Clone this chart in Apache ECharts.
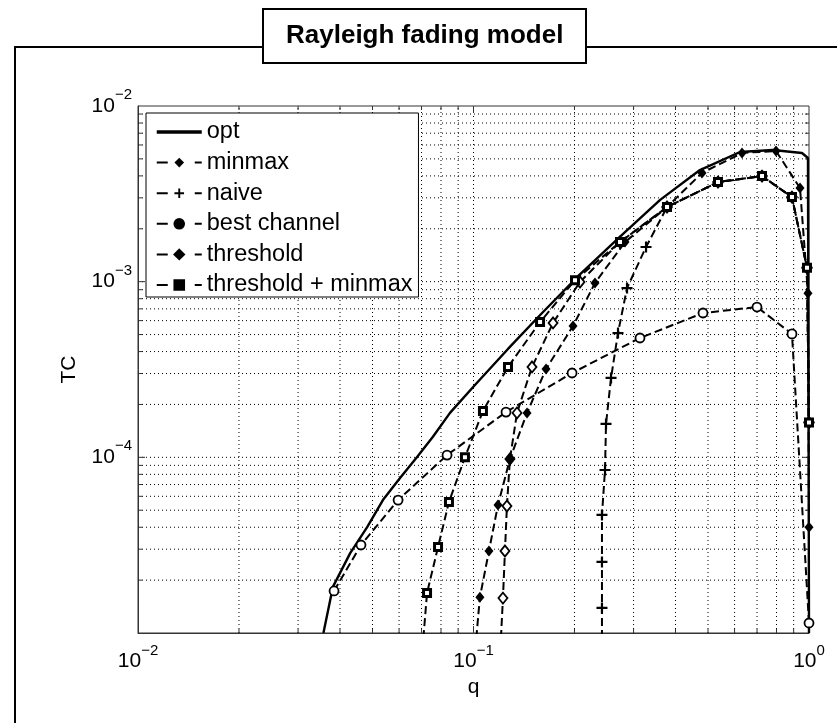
<!DOCTYPE html>
<html>
<head>
    <meta charset="utf-8">
    <title>Rayleigh fading model</title>
    <script src="https://cdn.jsdelivr.net/npm/echarts@6/dist/echarts.min.js"></script>
    <style>
        html, body { margin: 0; padding: 0; background: #fff; }
        #main { width: 837px; height: 723px; }
    </style>
</head>
<body>
<div id="main"></div>
<script>
    // axis ranges (log axes)
    var qRange = [0.01, 1];
    var tcRange = [1e-5, 1e-2];

    // dotted grid (matlab "grid on" with minor grid)
    var qGrid = [0.02, 0.03, 0.04, 0.05, 0.06, 0.07, 0.08, 0.09, 0.1,
                 0.2, 0.3, 0.4, 0.5, 0.6, 0.7, 0.8, 0.9];
    var tcGrid = [2e-5, 3e-5, 4e-5, 5e-5, 6e-5, 7e-5, 8e-5, 9e-5, 1e-4,
                  2e-4, 3e-4, 4e-4, 5e-4, 6e-4, 7e-4, 8e-4, 9e-4, 1e-3,
                  2e-3, 3e-3, 4e-3, 5e-3, 6e-3, 7e-3, 8e-3, 9e-3];
    var qMajor = [0.1];
    var tcMajor = [1e-4, 1e-3];

    // [q, TC]
    var optData = [
        [0.0357, 1.0e-5], [0.0381, 1.83e-5], [0.0429, 2.85e-5], [0.0482, 4.01e-5],
        [0.0537, 5.71e-5], [0.0604, 7.63e-5], [0.0678, 1.0e-4], [0.0757, 1.31e-4],
        [0.0851, 1.79e-4], [0.101, 2.58e-4], [0.1267, 4.14e-4], [0.158, 6.46e-4],
        [0.2035, 1.06e-3], [0.273, 1.80e-3], [0.360, 2.92e-3], [0.473, 4.32e-3],
        [0.623, 5.47e-3], [0.781, 5.62e-3], [0.953, 5.40e-3], [0.993, 5.06e-3],
        [1.0, 1.0e-5]
    ];
    var minmaxData = [
        [0.099, 5e-6], [0.1045, 1.60e-5], [0.1112, 2.93e-5], [0.1183, 5.36e-5],
        [0.1284, 9.78e-5], [0.1444, 1.79e-4], [0.1645, 3.18e-4], [0.198, 5.59e-4],
        [0.2302, 9.83e-4], [0.2829, 1.68e-3], [0.3774, 2.66e-3], [0.4798, 4.16e-3],
        [0.6315, 5.40e-3], [0.7973, 5.55e-3], [0.9402, 3.41e-3], [0.993, 8.6e-4],
        [1.0, 4.0e-5]
    ];
    var naiveData = [
        [0.2415, 5e-6], [0.2415, 1.39e-5], [0.2415, 2.54e-5], [0.2415, 4.70e-5],
        [0.2466, 8.47e-5], [0.2483, 1.55e-4], [0.257, 2.83e-4], [0.2696, 5.10e-4],
        [0.2868, 9.20e-4], [0.3268, 1.575e-3], [0.3774, 2.66e-3], [0.5355, 3.69e-3],
        [0.7244, 3.99e-3], [0.8897, 3.03e-3], [0.9863, 1.2e-3], [1.0, 1.58e-4]
    ];
    var bestData = [
        [0.0384, 1.735e-5], [0.0462, 3.17e-5], [0.0596, 5.71e-5], [0.0834, 1.03e-4],
        [0.125, 1.81e-4], [0.1967, 3.02e-4], [0.3135, 4.78e-4], [0.4831, 6.63e-4],
        [0.6998, 7.17e-4], [0.8897, 5.04e-4], [1.0, 1.14e-5]
    ];
    var thresholdData = [
        [0.1187, 5e-6], [0.1224, 1.58e-5], [0.1241, 2.93e-5], [0.1258, 5.28e-5],
        [0.1284, 9.78e-5], [0.1348, 1.79e-4], [0.1494, 3.27e-4], [0.1726, 5.82e-4],
        [0.2077, 9.96e-4], [0.2733, 1.68e-3], [0.3774, 2.66e-3], [0.5355, 3.69e-3],
        [0.7244, 3.99e-3], [0.8897, 3.03e-3], [0.9863, 1.2e-3], [1.0, 1.58e-4]
    ];
    var thrMinmaxData = [
        [0.069, 5e-6], [0.0727, 1.69e-5], [0.0784, 3.09e-5], [0.0845, 5.57e-5],
        [0.0943, 1.0e-4], [0.1067, 1.835e-4], [0.1267, 3.27e-4], [0.1579, 5.89e-4],
        [0.2007, 1.02e-3], [0.2733, 1.68e-3], [0.3774, 2.66e-3], [0.5355, 3.69e-3],
        [0.7244, 3.99e-3], [0.8897, 3.03e-3], [0.9863, 1.2e-3], [1.0, 1.58e-4]
    ];

    var font = 'Liberation Sans, Arial, Helvetica, sans-serif';
    var dash = [8, 4];
    var plusPath = 'path://M4,0h2v4h4v2h-4v4h-2v-4h-4v-2h4z';

    function powLabel(v, hideMin) {
        var e = Math.round(Math.log10(v));
        if (hideMin && e === Math.round(Math.log10(tcRange[0]))) return '';
        return '{b|10}{s|' + (e < 0 ? '\u2212' : '') + Math.abs(e) + '}';
    }
    var labelRich = {
        b: { fontSize: 21, lineHeight: 37, fontFamily: font, color: '#000' },
        s: { fontSize: 15, lineHeight: 15, fontFamily: font, color: '#000', verticalAlign: 'top' }
    };

    function vGridItem(params, api) {
        var q = api.value(0);
        var t = api.value(2) ? 7 : 4;
        var a = api.coord([q, tcRange[0]]);
        var b = api.coord([q, tcRange[1]]);
        return { type: 'group', children: [
            { type: 'line', shape: { x1: a[0], y1: a[1], x2: b[0], y2: b[1] },
              style: { stroke: '#000', lineWidth: 1, lineDash: [1, 3] } },
            { type: 'line', shape: { x1: a[0], y1: a[1], x2: a[0], y2: a[1] - t },
              style: { stroke: '#333', lineWidth: 1 } },
            { type: 'line', shape: { x1: b[0], y1: b[1], x2: b[0], y2: b[1] + t },
              style: { stroke: '#333', lineWidth: 1 } }
        ]};
    }
    function hGridItem(params, api) {
        var tc = api.value(1);
        var t = api.value(2) ? 7 : 4;
        var a = api.coord([qRange[0], tc]);
        var b = api.coord([qRange[1], tc]);
        return { type: 'group', children: [
            { type: 'line', shape: { x1: a[0], y1: a[1], x2: b[0], y2: b[1] },
              style: { stroke: '#000', lineWidth: 1, lineDash: [1, 3] } },
            { type: 'line', shape: { x1: a[0], y1: a[1], x2: a[0] + t, y2: a[1] },
              style: { stroke: '#333', lineWidth: 1 } },
            { type: 'line', shape: { x1: b[0], y1: b[1], x2: b[0] - t, y2: b[1] },
              style: { stroke: '#333', lineWidth: 1 } }
        ]};
    }

    var myChart = echarts.init(document.getElementById('main'));

    var legendDash = { type: [11, 27], width: 2 };

    option = {
        animation: false,
        backgroundColor: '#fff',
        title: {
            text: 'Rayleigh fading model',
            left: 263,
            top: 9,
            padding: [14, 23, 14, 23],
            backgroundColor: '#fff',
            borderColor: '#000',
            borderWidth: 2,
            z: 10,
            textStyle: { fontFamily: font, fontSize: 26, fontWeight: 'bold', color: '#000' }
        },
        graphic: [{
            type: 'rect',
            z: 0,
            silent: true,
            shape: { x: 15, y: 47, width: 840, height: 700 },
            style: { fill: 'none', stroke: '#000', lineWidth: 2 }
        }],
        grid: {
            left: 138, right: 28, top: 106, bottom: 90,
            show: true, borderColor: '#333', borderWidth: 1, backgroundColor: '#fff'
        },
        legend: {
            orient: 'vertical',
            left: 146,
            top: 113,
            padding: [7, 6, 0, 9],
            itemGap: 6.6,
            itemWidth: 45,
            itemHeight: 12,
            backgroundColor: '#fff',
            borderColor: '#000',
            borderWidth: 1,
            z: 10,
            textStyle: { fontFamily: font, fontSize: 23.5, lineHeight: 22, color: '#000' },
            data: [
                { name: 'opt', lineStyle: { width: 3.5 }, itemStyle: { opacity: 0 } },
                { name: 'minmax', lineStyle: legendDash },
                { name: 'naive', lineStyle: legendDash },
                { name: 'best channel', lineStyle: legendDash, itemStyle: { color: '#000' } },
                { name: 'threshold', lineStyle: legendDash, itemStyle: { color: '#000' } },
                { name: 'threshold + minmax', lineStyle: legendDash, itemStyle: { color: '#000' } }
            ]
        },
        xAxis: {
            type: 'log',
            logBase: 10,
            min: qRange[0],
            max: qRange[1],
            name: 'q',
            nameLocation: 'middle',
            nameGap: 43,
            nameTextStyle: { fontFamily: font, fontSize: 21, color: '#000' },
            axisLine: { lineStyle: { color: '#333', width: 1 } },
            axisTick: { show: false },
            splitLine: { show: false },
            axisLabel: {
                margin: 10,
                showMinLabel: true,
                showMaxLabel: true,
                formatter: function (v) { return powLabel(v, false); },
                rich: labelRich
            }
        },
        yAxis: {
            type: 'log',
            logBase: 10,
            min: tcRange[0],
            max: tcRange[1],
            name: 'TC',
            nameLocation: 'middle',
            nameGap: 58,
            nameTextStyle: { fontFamily: font, fontSize: 21, color: '#000' },
            axisLine: { lineStyle: { color: '#333', width: 1 } },
            axisTick: { show: false },
            splitLine: { show: false },
            axisLabel: {
                margin: 6,
                showMinLabel: true,
                showMaxLabel: true,
                formatter: function (v) { return powLabel(v, true); },
                rich: labelRich
            }
        },
        series: [
            {
                name: 'qgrid', type: 'custom', silent: true, z: 1,
                renderItem: vGridItem,
                data: qGrid.map(function (q) { return [q, tcRange[0], qMajor.indexOf(q) >= 0 ? 1 : 0]; })
            },
            {
                name: 'tcgrid', type: 'custom', silent: true, z: 1,
                renderItem: hGridItem,
                data: tcGrid.map(function (tc) { return [qRange[0], tc, tcMajor.indexOf(tc) >= 0 ? 1 : 0]; })
            },
            {
                name: 'best channel', type: 'line', data: bestData,
                symbol: 'circle', symbolSize: 9,
                itemStyle: { color: '#fff', borderColor: '#000', borderWidth: 1.8 },
                lineStyle: { color: '#000', width: 2, type: dash }
            },
            {
                name: 'naive', type: 'line', data: naiveData,
                symbol: plusPath, symbolSize: 11,
                itemStyle: { color: '#000' },
                lineStyle: { color: '#000', width: 2, type: dash }
            },
            {
                name: 'threshold', type: 'line', data: thresholdData,
                symbol: 'diamond', symbolSize: [9, 11],
                itemStyle: { color: '#fff', borderColor: '#000', borderWidth: 1.8 },
                lineStyle: { color: '#000', width: 2, type: dash }
            },
            {
                name: 'minmax', type: 'line', data: minmaxData,
                symbol: 'diamond', symbolSize: [9, 11],
                itemStyle: { color: '#000' },
                lineStyle: { color: '#000', width: 2, type: dash }
            },
            {
                name: 'threshold + minmax', type: 'line', data: thrMinmaxData,
                symbol: 'rect', symbolSize: 7,
                itemStyle: { color: '#fff', borderColor: '#000', borderWidth: 3 },
                lineStyle: { color: '#000', width: 2, type: dash }
            },
            {
                name: 'opt', type: 'line', data: optData,
                symbol: 'none',
                lineStyle: { color: '#000', width: 2.4 }
            }
        ]
    };

    myChart.setOption(option);
</script>
</body>
</html>
